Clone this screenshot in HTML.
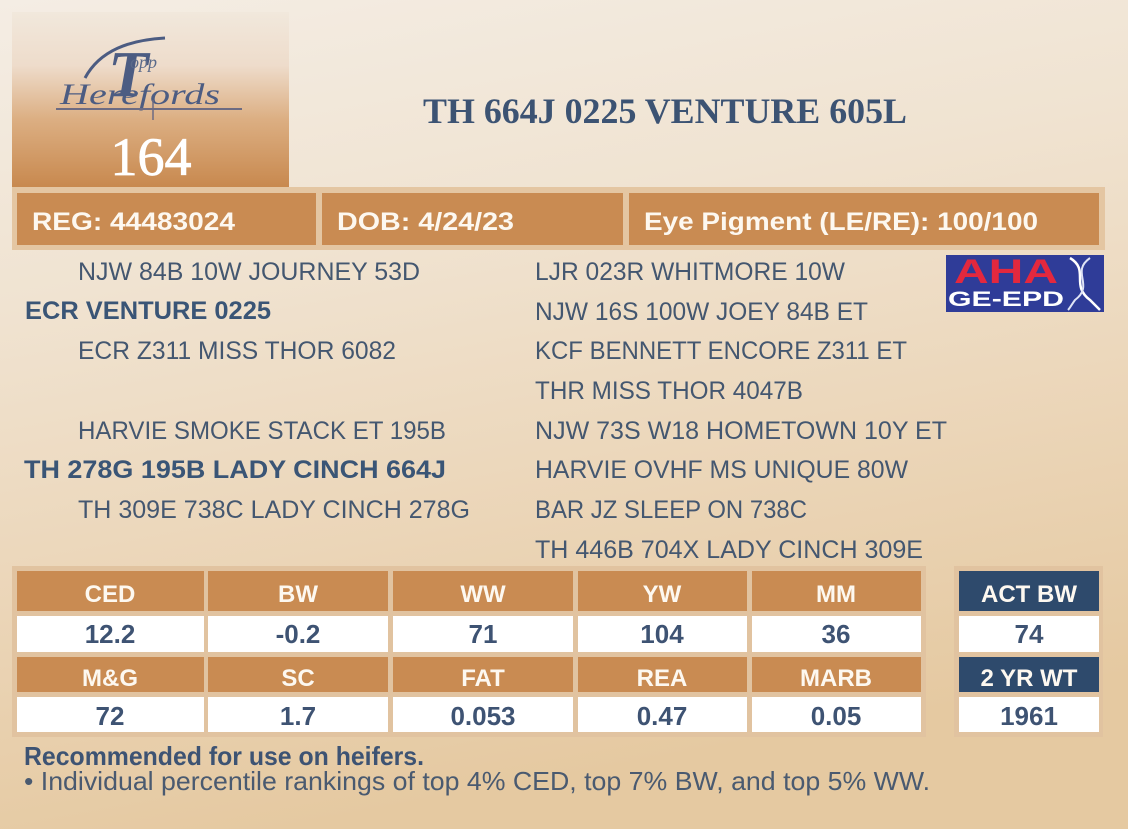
<!DOCTYPE html>
<html>
<head>
<meta charset="utf-8">
<style>
  html,body{margin:0;padding:0;}
  body{width:1128px;height:829px;overflow:hidden;}
  svg{display:block;}
  .sans{font-family:"Liberation Sans",sans-serif;}
  .serif{font-family:"Liberation Serif",serif;}
</style>
</head>
<body>
<svg width="1128" height="829" viewBox="0 0 1128 829" xmlns="http://www.w3.org/2000/svg">
  <defs>
    <linearGradient id="bg" x1="0" y1="0" x2="0.25" y2="1">
      <stop offset="0" stop-color="#f4ede4"/>
      <stop offset="0.35" stop-color="#f0e3d1"/>
      <stop offset="0.7" stop-color="#ebd5b7"/>
      <stop offset="1" stop-color="#e5c9a1"/>
    </linearGradient>
    <linearGradient id="logo" x1="0" y1="0" x2="0" y2="1">
      <stop offset="0" stop-color="#f1e8dc"/>
      <stop offset="0.3" stop-color="#eedccb"/>
      <stop offset="0.6" stop-color="#dcaf83"/>
      <stop offset="1" stop-color="#c7874c"/>
    </linearGradient>
  </defs>

  <rect x="0" y="0" width="1128" height="829" fill="url(#bg)"/>

  <!-- logo box -->
  <rect x="12" y="12" width="277" height="178" fill="url(#logo)"/>
  <g fill="#4c5c82" class="serif" font-style="italic">
    <text x="108" y="96" font-size="66" font-weight="bold">T</text>
    <text x="130" y="68" font-size="18" fill="#5a6a8a">opp</text>
    <text x="60" y="104" font-size="30" textLength="160" lengthAdjust="spacingAndGlyphs">Herefords</text>
  </g>
  <path d="M85 78 C100 50 130 40 165 38" stroke="#4c5c82" stroke-width="3" fill="none"/>
  <line x1="56" y1="109" x2="242" y2="109" stroke="#6d6b82" stroke-width="2"/>
  <line x1="153" y1="100" x2="153" y2="120" stroke="#6d6b82" stroke-width="1.5"/>
  <text x="151" y="175" class="serif" font-size="54" fill="#ffffff" stroke="#ffffff" stroke-width="0.8" text-anchor="middle">164</text>

  <!-- title -->
  <text x="423" y="123" class="serif" font-size="36" font-weight="bold" fill="#3c5373" textLength="484" lengthAdjust="spacingAndGlyphs">TH 664J 0225 VENTURE 605L</text>

  <!-- info bar -->
  <rect x="12" y="187" width="1093" height="63" fill="#e4c6a2"/>
  <rect x="17" y="193" width="299" height="52" fill="#c98b52"/>
  <rect x="322" y="193" width="301" height="52" fill="#c98b52"/>
  <rect x="629" y="193" width="470" height="52" fill="#c98b52"/>
  <g class="sans" font-weight="bold" font-size="25" fill="#fdf8f0">
    <text x="32" y="230" textLength="203" lengthAdjust="spacingAndGlyphs">REG: 44483024</text>
    <text x="337" y="230" textLength="177" lengthAdjust="spacingAndGlyphs">DOB: 4/24/23</text>
    <text x="644" y="230" textLength="394" lengthAdjust="spacingAndGlyphs">Eye Pigment (LE/RE): 100/100</text>
  </g>

  <!-- AHA logo -->
  <rect x="946" y="255" width="158" height="57" fill="#2f3c98"/>
  <text x="954" y="283" class="sans" font-weight="bold" font-size="34" fill="#e3283e" textLength="104" lengthAdjust="spacingAndGlyphs">AHA</text>
  <text x="948" y="306" class="sans" font-weight="bold" font-size="21" fill="#ffffff" textLength="116" lengthAdjust="spacingAndGlyphs">GE-EPD</text>
  <path d="M1070 258 C1090 270 1070 285 1090 300 C1095 305 1098 308 1100 310" stroke="#ffffff" stroke-width="2.5" fill="none"/>
  <path d="M1090 258 C1070 272 1095 285 1075 300 C1072 304 1070 308 1068 310" stroke="#dfe3f5" stroke-width="2" fill="none"/>

  <!-- pedigree -->
  <g class="sans" font-size="25" fill="#445770">
    <text x="78" y="280" textLength="342" lengthAdjust="spacingAndGlyphs">NJW 84B 10W JOURNEY 53D</text>
    <text x="25" y="319" font-weight="bold" fill="#3a5576" textLength="246" lengthAdjust="spacingAndGlyphs">ECR VENTURE 0225</text>
    <text x="78" y="359" textLength="318" lengthAdjust="spacingAndGlyphs">ECR Z311 MISS THOR 6082</text>
    <text x="78" y="439" textLength="368" lengthAdjust="spacingAndGlyphs">HARVIE SMOKE STACK ET 195B</text>
    <text x="24" y="478" font-weight="bold" fill="#3a5576" textLength="422" lengthAdjust="spacingAndGlyphs">TH 278G 195B LADY CINCH 664J</text>
    <text x="78" y="518" textLength="392" lengthAdjust="spacingAndGlyphs">TH 309E 738C LADY CINCH 278G</text>

    <text x="535" y="280" textLength="310" lengthAdjust="spacingAndGlyphs">LJR 023R WHITMORE 10W</text>
    <text x="535" y="320" textLength="333" lengthAdjust="spacingAndGlyphs">NJW 16S 100W JOEY 84B ET</text>
    <text x="535" y="359" textLength="372" lengthAdjust="spacingAndGlyphs">KCF BENNETT ENCORE Z311 ET</text>
    <text x="535" y="399" textLength="268" lengthAdjust="spacingAndGlyphs">THR MISS THOR 4047B</text>
    <text x="535" y="439" textLength="412" lengthAdjust="spacingAndGlyphs">NJW 73S W18 HOMETOWN 10Y ET</text>
    <text x="535" y="478" textLength="373" lengthAdjust="spacingAndGlyphs">HARVIE OVHF MS UNIQUE 80W</text>
    <text x="535" y="518" textLength="272" lengthAdjust="spacingAndGlyphs">BAR JZ SLEEP ON 738C</text>
    <text x="535" y="558" textLength="388" lengthAdjust="spacingAndGlyphs">TH 446B 704X LADY CINCH 309E</text>
  </g>

  <!-- EPD table -->
  <rect x="12" y="566" width="914" height="171" fill="#e1c3a0"/>
  <rect x="954" y="566" width="149" height="171" fill="#e1c3a0"/>
  <g fill="#c98b52">
    <rect x="17" y="571" width="187" height="40"/>
    <rect x="208" y="571" width="180" height="40"/>
    <rect x="393" y="571" width="180" height="40"/>
    <rect x="578" y="571" width="169" height="40"/>
    <rect x="752" y="571" width="169" height="40"/>
    <rect x="17" y="657" width="187" height="35"/>
    <rect x="208" y="657" width="180" height="35"/>
    <rect x="393" y="657" width="180" height="35"/>
    <rect x="578" y="657" width="169" height="35"/>
    <rect x="752" y="657" width="169" height="35"/>
  </g>
  <g fill="#2e4a6c">
    <rect x="959" y="571" width="140" height="40"/>
    <rect x="959" y="657" width="140" height="35"/>
  </g>
  <g fill="#ffffff">
    <rect x="17" y="616" width="187" height="36"/>
    <rect x="208" y="616" width="180" height="36"/>
    <rect x="393" y="616" width="180" height="36"/>
    <rect x="578" y="616" width="169" height="36"/>
    <rect x="752" y="616" width="169" height="36"/>
    <rect x="959" y="616" width="140" height="36"/>
    <rect x="17" y="697" width="187" height="35"/>
    <rect x="208" y="697" width="180" height="35"/>
    <rect x="393" y="697" width="180" height="35"/>
    <rect x="578" y="697" width="169" height="35"/>
    <rect x="752" y="697" width="169" height="35"/>
    <rect x="959" y="697" width="140" height="35"/>
  </g>
  <g class="sans" font-weight="bold" font-size="24" fill="#fdf8f0" text-anchor="middle">
    <text x="110" y="602">CED</text>
    <text x="298" y="602">BW</text>
    <text x="483" y="602">WW</text>
    <text x="662" y="602">YW</text>
    <text x="836" y="602">MM</text>
    <text x="1029" y="602">ACT BW</text>
    <text x="110" y="686">M&amp;G</text>
    <text x="298" y="686">SC</text>
    <text x="483" y="686">FAT</text>
    <text x="662" y="686">REA</text>
    <text x="836" y="686">MARB</text>
    <text x="1029" y="686">2 YR WT</text>
  </g>
  <g class="sans" font-weight="bold" font-size="26" fill="#3e5373" text-anchor="middle">
    <text x="110" y="643">12.2</text>
    <text x="298" y="643">-0.2</text>
    <text x="483" y="643">71</text>
    <text x="662" y="643">104</text>
    <text x="836" y="643">36</text>
    <text x="1029" y="643">74</text>
    <text x="110" y="725">72</text>
    <text x="298" y="725">1.7</text>
    <text x="483" y="725">0.053</text>
    <text x="662" y="725">0.47</text>
    <text x="836" y="725">0.05</text>
    <text x="1029" y="725">1961</text>
  </g>

  <!-- footer text -->
  <text x="24" y="765" class="sans" font-weight="bold" font-size="26" fill="#3d5373" textLength="400" lengthAdjust="spacingAndGlyphs">Recommended for use on heifers.</text>
  <text x="24" y="790" class="sans" font-size="26" fill="#4a5a70" textLength="906" lengthAdjust="spacingAndGlyphs">• Individual percentile rankings of top 4% CED, top 7% BW, and top 5% WW.</text>
</svg>
</body>
</html>
